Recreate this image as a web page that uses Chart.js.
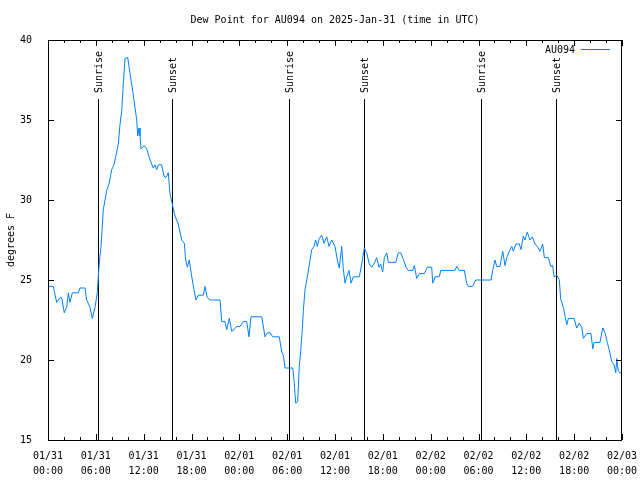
<!DOCTYPE html>
<html>
<head>
<meta charset="utf-8">
<script src="https://cdn.jsdelivr.net/npm/chart.js@4.4.1/dist/chart.umd.min.js"></script>
<style>
  body { margin: 0; background: #fff; }
  #wrap { width: 640px; height: 480px; }
</style>
</head>
<body>
<div id="wrap"><canvas id="myChart1"></canvas></div>
<script>
// hours since 01/31 00:00 UTC
var hours = [0, 0.66, 1.09, 1.51, 1.72, 2.04, 2.35, 2.55, 2.76, 3.05, 3.80, 4.01, 4.64, 4.85, 5.27, 5.56, 5.90, 6.18, 6.36, 6.52,
  6.65, 6.94, 7.15, 7.36, 7.65, 7.99, 8.28, 8.53, 8.82, 9.03, 9.25, 9.45, 9.66, 10.00, 10.29, 10.57, 10.91, 11.13, 11.25, 11.42,
  11.54, 11.67, 12.08, 12.38, 12.80, 13.21, 13.42, 13.64, 13.84, 14.26, 14.55, 14.80, 15.09, 15.30, 15.52, 15.93, 16.34, 16.77, 17.10, 17.27,
  17.47, 17.72, 18.03, 18.31, 18.57, 18.85, 19.48, 19.69, 19.98, 20.32, 21.58, 21.79, 22.20, 22.42, 22.74, 23.04, 23.33, 23.67, 24.08, 24.50,
  24.93, 25.21, 25.46, 26.81, 27.22, 27.51, 27.85, 28.19, 29.01, 29.32, 29.52, 29.73, 30.70, 30.86, 31.07, 31.32, 31.52, 31.70, 31.90, 32.03,
  32.24, 32.53, 32.87, 33.08, 33.37, 33.58, 33.78, 34.03, 34.33, 34.62, 34.96, 35.25, 35.59, 36.00, 36.29, 36.54, 36.84, 37.04, 37.26, 37.47,
  37.76, 38.01, 38.30, 39.05, 39.35, 39.68, 39.98, 40.30, 40.61, 40.89, 41.23, 41.52, 41.73, 41.98, 42.19, 42.49, 42.69, 43.62, 43.94, 44.24,
  44.57, 44.91, 45.20, 45.75, 45.95, 46.25, 46.58, 47.20, 47.58, 48.13, 48.26, 48.55, 49.09, 49.26, 51.05, 51.27, 51.59, 52.22, 52.52, 52.72,
  53.27, 53.65, 55.57, 55.78, 56.07, 56.28, 56.70, 57.04, 57.33, 57.54, 57.87, 58.17, 58.37, 58.71, 59.12, 59.33, 59.62, 59.83, 60.12, 60.46,
  60.75, 61.09, 61.38, 61.72, 62.05, 62.26, 62.76, 63.06, 63.31, 63.47, 63.81, 64.14, 64.31, 64.64, 65.07, 65.27, 65.98, 66.32, 66.65, 66.95,
  67.16, 67.57, 68.11, 68.33, 68.49, 69.24, 69.58, 69.87, 70.16, 70.50, 70.71, 71.00, 71.22, 71.34, 71.54, 71.75, 72.00];
var dewF = [24.6, 24.6, 23.6, 23.9, 23.9, 22.95, 23.3, 24.2, 23.6, 24.2, 24.2, 24.5, 24.5, 23.75, 23.3, 22.6, 23.3, 24.2, 25.6, 26.5,
  27.1, 29.4, 30.0, 30.6, 31.0, 31.9, 32.2, 32.8, 33.5, 34.7, 35.6, 37.3, 38.85, 38.9, 37.9, 37.0, 35.8, 35.0, 34.0, 34.5,
  34.0, 33.2, 33.4, 33.2, 32.5, 32.0, 32.2, 31.9, 32.2, 32.2, 31.5, 31.4, 31.7, 30.4, 29.9, 29.0, 28.5, 27.5, 27.3, 26.25,
  25.8, 26.25, 25.2, 24.4, 23.75, 24.05, 24.05, 24.6, 23.9, 23.75, 23.75, 22.4, 22.4, 21.9, 22.6, 21.8, 21.9, 22.1, 22.1, 22.4,
  22.4, 21.45, 22.7, 22.7, 21.45, 21.7, 21.7, 21.45, 21.45, 20.5, 20.3, 19.5, 19.5, 18.75, 17.3, 17.4, 19.6, 20.6, 21.9, 23.1,
  24.4, 25.2, 26.25, 26.9, 27.1, 27.5, 27.1, 27.6, 27.8, 27.3, 27.7, 27.1, 27.5, 27.1, 26.25, 25.75, 27.1, 25.7, 24.8, 25.2,
  25.6, 24.8, 25.2, 25.2, 26.0, 27.0, 26.7, 26.0, 25.8, 26.0, 26.4, 25.8, 26.0, 25.5, 26.4, 26.7, 26.1, 26.1, 26.7, 26.7,
  26.3, 25.8, 25.6, 25.6, 25.9, 25.1, 25.4, 25.4, 25.8, 25.8, 24.8, 25.2, 25.2, 25.6, 25.6, 25.85, 25.6, 25.6, 24.8, 24.6,
  24.6, 25.0, 25.0, 25.6, 26.25, 25.85, 25.85, 26.8, 25.9, 26.4, 26.8, 27.1, 26.8, 27.25, 27.25, 26.9, 27.75, 27.5, 28.0, 27.5,
  27.7, 27.25, 27.1, 26.8, 27.25, 26.4, 26.4, 25.85, 25.9, 25.2, 25.3, 25.0, 23.8, 23.3, 22.2, 22.6, 22.6, 22.0, 22.3, 22.05,
  21.35, 21.65, 21.65, 20.7, 21.1, 21.1, 22.0, 21.7, 21.1, 20.4, 19.9, 19.7, 19.2, 20.1, 19.3, 19.2, 19.2];

var tickDates = ['01/31', '01/31', '01/31', '01/31', '02/01', '02/01', '02/01', '02/01', '02/02', '02/02', '02/02', '02/02', '02/03'];
var tickTimes = ['00:00', '06:00', '12:00', '18:00', '00:00', '06:00', '12:00', '18:00', '00:00', '06:00', '12:00', '18:00', '00:00'];
var yTicks = [15, 20, 25, 30, 35, 40];

var sunHours = [6.31, 15.60, 30.27, 39.68, 54.36, 63.77];
var sunLabels = ['Sunrise', 'Sunset', 'Sunrise', 'Sunset', 'Sunrise', 'Sunset'];

var FONT = "10px 'DejaVu Sans Mono', 'Liberation Mono', monospace";
var lineColor = 'rgb(0, 128, 255)';

let points = [];
for (var i in hours) {
  points.push({x: hours[i], y: dewF[i]});
}

// gnuplot look: box, inward tics, sunrise/sunset markers, key
const gnuplotBits = {
  id: 'gnuplotBits',
  beforeDatasetsDraw(chart) {
    const ctx = chart.ctx;
    const a = chart.chartArea;
    const xs = chart.scales.x;
    ctx.save();
    ctx.strokeStyle = '#000';
    ctx.lineWidth = 1;
    ctx.font = FONT;
    ctx.fillStyle = '#000';
    for (var i = 0; i < sunHours.length; i++) {
      var px = Math.round(xs.getPixelForValue(sunHours[i])) + 0.5;
      ctx.beginPath();
      ctx.moveTo(px, 99);
      ctx.lineTo(px, a.bottom);
      ctx.stroke();
      ctx.save();
      ctx.translate(px + 1, 93);
      ctx.rotate(-Math.PI / 2);
      ctx.textAlign = 'left';
      ctx.textBaseline = 'middle';
      ctx.fillText(sunLabels[i], 0, 0);
      ctx.restore();
    }
    ctx.restore();
  },
  afterDraw(chart) {
    const ctx = chart.ctx;
    const a = chart.chartArea;
    const xs = chart.scales.x;
    const ys = chart.scales.y;
    ctx.save();
    ctx.strokeStyle = '#000';
    ctx.lineWidth = 1;
    ctx.strokeRect(a.left + 0.5, a.top + 0.5, a.right - a.left - 1, a.bottom - a.top);
    ctx.beginPath();
    for (var h = 0; h <= 72; h += 2) {
      var px = Math.round(xs.getPixelForValue(h)) + 0.5;
      var len = (h % 6 == 0) ? 6 : 3;
      ctx.moveTo(px, a.bottom);
      ctx.lineTo(px, a.bottom - len);
      ctx.moveTo(px, a.top);
      ctx.lineTo(px, a.top + len);
    }
    for (var j in yTicks) {
      var py = Math.round(ys.getPixelForValue(yTicks[j])) + 0.5;
      ctx.moveTo(a.left, py);
      ctx.lineTo(a.left + 6, py);
      ctx.moveTo(a.right, py);
      ctx.lineTo(a.right - 6, py);
    }
    ctx.stroke();
    // key
    ctx.font = FONT;
    ctx.fillStyle = '#000';
    ctx.textAlign = 'right';
    ctx.textBaseline = 'middle';
    ctx.fillText(chart.data.datasets[0].label, 575, 50);
    ctx.strokeStyle = lineColor;
    ctx.beginPath();
    ctx.moveTo(581, 49.5);
    ctx.lineTo(610, 49.5);
    ctx.stroke();
    ctx.restore();
  }
};

const data = {
  datasets: [{
    label: 'AU094',
    data: points,
    borderColor: lineColor,
    borderWidth: 1,
    pointRadius: 0,
    tension: 0,
    fill: false,
  }]
};

const config = {
  type: 'line',
  data: data,
  plugins: [gnuplotBits],
  options: {
    responsive: true,
    maintainAspectRatio: false,
    animation: false,
    layout: { padding: { left: 0, right: 18, top: 0, bottom: 0 } },
    plugins: {
      legend: { display: false },
      tooltip: { enabled: false },
      title: {
        display: true,
        text: 'Dew Point for AU094 on 2025-Jan-31 (time in UTC)',
        color: '#000',
        fullSize: false,
        font: { family: "'DejaVu Sans Mono', monospace", size: 10, weight: 'normal', lineHeight: 1.2 },
        padding: { top: 14, bottom: 14 },
      },
    },
    scales: {
      x: {
        type: 'linear',
        min: 0,
        max: 72,
        grid: { display: false },
        border: { display: false },
        ticks: {
          stepSize: 6,
          autoSkip: false,
          maxRotation: 0,
          padding: 1,
          color: '#000',
          font: { family: "'DejaVu Sans Mono', monospace", size: 10, lineHeight: 1.5 },
          callback: function(value) {
            var k = Math.round(value / 6);
            return [tickDates[k], tickTimes[k]];
          }
        },
        afterFit: function(scale) { scale.height = 40; }
      },
      y: {
        min: 15,
        max: 40,
        grid: { display: false },
        border: { display: false },
        title: {
          display: true,
          text: 'degrees F',
          color: '#000',
          font: { family: "'DejaVu Sans Mono', monospace", size: 10 },
          padding: { top: 5, bottom: 0 },
        },
        ticks: {
          stepSize: 5,
          padding: 8,
          color: '#000',
          font: { family: "'DejaVu Sans Mono', monospace", size: 10 },
        },
        afterFit: function(scale) { scale.width = 48; }
      }
    }
  }
};

const myChart1 = new Chart(document.getElementById('myChart1'), config);
</script>
</body>
</html>
